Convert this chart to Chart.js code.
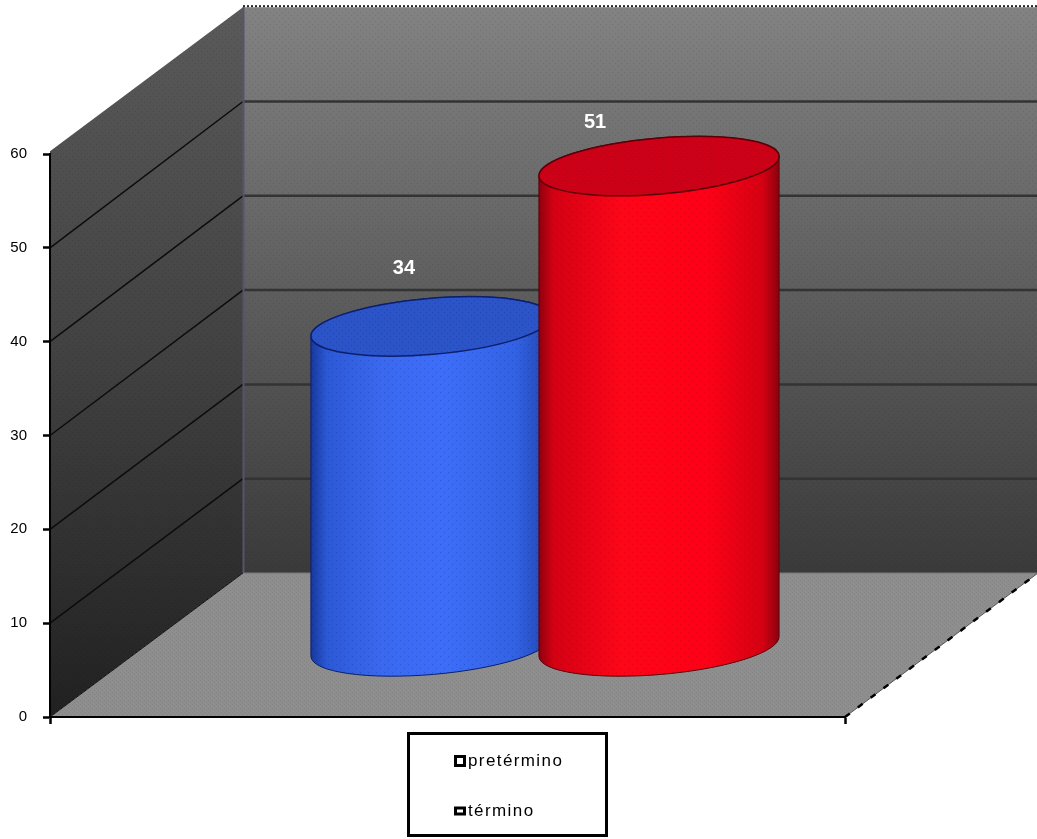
<!DOCTYPE html>
<html>
<head>
<meta charset="utf-8">
<title>pretérmino / término</title>
<script src="https://cdn.jsdelivr.net/npm/chart.js@4/dist/chart.umd.min.js"></script>
<style>
  html, body { margin: 0; padding: 0; background: #fff; }
  canvas { display: block; }
</style>
</head>
<body>
<canvas id="grafico" width="1037" height="839"></canvas>
<script>
// Datos
const categories = [''];
const seriesNames = ['pretérmino', 'término'];
const pretermino = [34];
const termino = [51];
const tickValues = [0, 10, 20, 30, 40, 50, 60];

// Caja 3D: desplazamiento de la pared del fondo respecto al plano frontal
const DEPTH_X = 193;
const DEPTH_Y = 144;
const WALL_STRETCH = 1.005;
const BAR_SHIFT_X = 97.5;
const BAR_SHIFT_Y = 70;
const ELLIPSE_RY = 28;
const ELLIPSE_TILT = -0.085;

const cylinderStyles = [
  {
    side: [[0, '#17389c'], [0.07, '#2b59d6'], [0.3, '#3a69f0'], [0.55, '#3d6efa'], [0.85, '#3262e4'], [1, '#1e44ae']],
    top: '#2a54c8', edge: '#0b1f6e', dot: 'rgba(10,30,120,0.28)'
  },
  {
    side: [[0, '#8c000e'], [0.06, '#d40012'], [0.35, '#ff0518'], [0.7, '#ff0016'], [0.93, '#d60012'], [1, '#8a000e']],
    top: '#cc0016', edge: '#5a0008', dot: 'rgba(120,0,20,0.22)'
  }
];
// Posición de cada rótulo respecto al centro de la tapa
const labelShift = [{ x: -27, y: -58 }, { x: -64, y: -44 }];

function dotPattern(ctx, size, color) {
  const c = document.createElement('canvas');
  c.width = size;
  c.height = size;
  const p = c.getContext('2d');
  p.fillStyle = color;
  p.fillRect(0, 0, 1, 1);
  p.fillRect(size / 2, size / 2, 1, 1);
  return ctx.createPattern(c, 'repeat');
}

function fillPoly(ctx, points, style) {
  ctx.beginPath();
  points.forEach((pt, i) => (i ? ctx.lineTo(pt[0], pt[1]) : ctx.moveTo(pt[0], pt[1])));
  ctx.closePath();
  ctx.fillStyle = style;
  ctx.fill();
}

function drawLine(ctx, x1, y1, x2, y2, color, width, dash) {
  ctx.save();
  ctx.strokeStyle = color;
  ctx.lineWidth = width;
  ctx.setLineDash(dash || []);
  ctx.beginPath();
  ctx.moveTo(x1, y1);
  ctx.lineTo(x2, y2);
  ctx.stroke();
  ctx.restore();
}

// Paredes y suelo, con las líneas de división sacadas de la escala Y
const wallsPlugin = {
  id: 'walls',
  beforeDraw(chart) {
    const ctx = chart.ctx;
    const y = chart.scales.y;
    const area = chart.chartArea;
    const zero = y.getPixelForValue(0);
    const backY = v => zero - DEPTH_Y - (zero - y.getPixelForValue(v)) * WALL_STRETCH;
    const backX = area.left + DEPTH_X;
    const top = backY(60);
    const bottom = backY(0);
    const right = area.right + DEPTH_X;

    const backGrad = ctx.createLinearGradient(0, top, 0, bottom);
    backGrad.addColorStop(0, '#828282');
    backGrad.addColorStop(0.5, '#5e5e5e');
    backGrad.addColorStop(1, '#3a3a3a');
    const backPoly = [[backX, top], [right, top], [right, bottom], [backX, bottom]];
    fillPoly(ctx, backPoly, backGrad);
    fillPoly(ctx, backPoly, dotPattern(ctx, 6, 'rgba(0,0,0,0.10)'));

    const sideGrad = ctx.createLinearGradient(0, top, 0, zero);
    sideGrad.addColorStop(0, '#5a5a5a');
    sideGrad.addColorStop(0.5, '#414141');
    sideGrad.addColorStop(1, '#212121');
    const sidePoly = [[area.left, backY(60) + DEPTH_Y], [backX, top], [backX, bottom], [area.left, zero]];
    fillPoly(ctx, sidePoly, sideGrad);
    fillPoly(ctx, sidePoly, dotPattern(ctx, 6, 'rgba(0,0,0,0.12)'));

    const floorPoly = [[area.left, zero], [area.right, zero], [right, bottom], [backX, bottom]];
    fillPoly(ctx, floorPoly, '#8e8e8e');
    fillPoly(ctx, floorPoly, dotPattern(ctx, 4, 'rgba(0,0,0,0.07)'));

    tickValues.forEach(v => {
      if (v === 0 || v === 60) return;
      const by = backY(v);
      drawLine(ctx, backX, by, right, by, '#333', 2.5);
      drawLine(ctx, area.left, y.getPixelForValue(v), backX, by, '#0c0c0c', 1.5);
    });
    drawLine(ctx, backX + 0.5, top, backX + 0.5, bottom, '#55556a', 2);
    drawLine(ctx, backX, top - 1, right, top - 1, '#222', 2, [2, 2]);
    drawLine(ctx, backX, bottom, right, bottom, '#777', 1);
    drawLine(ctx, area.left, zero, backX, bottom, '#111', 1);
    drawLine(ctx, area.right, zero, right, bottom, '#555', 1);
    drawLine(ctx, area.right, zero, right, bottom, '#000', 2.5, [6, 10]);
  }
};

// Cada barra se dibuja como cilindro a partir de su elemento en el gráfico
const cylinderPlugin = {
  id: 'cylinders',
  beforeDatasetsDraw(chart) {
    const ctx = chart.ctx;
    chart.data.datasets.forEach((ds, i) => {
      const bar = chart.getDatasetMeta(i).data[0];
      const style = cylinderStyles[i];
      const cx = bar.x + BAR_SHIFT_X;
      const rx = bar.width / 2;
      const baseY = bar.base - BAR_SHIFT_Y;
      const topY = baseY - (bar.base - bar.y) * WALL_STRETCH;

      const dxEdge = rx * Math.cos(ELLIPSE_TILT);
      const dyEdge = -rx * Math.sin(ELLIPSE_TILT);

      ctx.save();
      ctx.beginPath();
      ctx.moveTo(cx - dxEdge, topY + dyEdge);
      ctx.lineTo(cx - dxEdge, baseY + dyEdge);
      ctx.ellipse(cx, baseY, rx, ELLIPSE_RY, ELLIPSE_TILT, Math.PI, 0, true);
      ctx.lineTo(cx + dxEdge, topY - dyEdge);
      ctx.ellipse(cx, topY, rx, ELLIPSE_RY, ELLIPSE_TILT, 0, Math.PI, true);
      ctx.closePath();
      const grad = ctx.createLinearGradient(cx - rx, 0, cx + rx, 0);
      style.side.forEach(s => grad.addColorStop(s[0], s[1]));
      ctx.fillStyle = grad;
      ctx.fill();
      ctx.fillStyle = dotPattern(ctx, 8, style.dot);
      ctx.fill();
      ctx.strokeStyle = style.edge;
      ctx.lineWidth = 1;
      ctx.stroke();

      // tapa
      ctx.beginPath();
      ctx.ellipse(cx, topY, rx, ELLIPSE_RY, ELLIPSE_TILT, 0, Math.PI * 2);
      ctx.fillStyle = style.top;
      ctx.fill();
      ctx.fillStyle = dotPattern(ctx, 6, style.dot);
      ctx.fill();
      ctx.lineWidth = 1.5;
      ctx.stroke();
      ctx.restore();

      bar.$labelPos = { x: cx + labelShift[i].x, y: topY + labelShift[i].y };
    });
  },
  afterDatasetsDraw(chart) {
    const ctx = chart.ctx;
    ctx.save();
    ctx.font = 'bold 20px "Liberation Sans", Arial, sans-serif';
    ctx.fillStyle = '#fff';
    ctx.textAlign = 'center';
    ctx.textBaseline = 'middle';
    chart.data.datasets.forEach((ds, i) => {
      const pos = chart.getDatasetMeta(i).data[0].$labelPos;
      ctx.fillText(String(ds.data[0]), pos.x, pos.y);
    });
    ctx.restore();
  }
};

// Leyenda en recuadro bajo el eje
const legendBoxPlugin = {
  id: 'legendBox',
  afterDraw(chart) {
    const ctx = chart.ctx;
    ctx.save();
    ctx.strokeStyle = '#000';
    ctx.lineWidth = 3;
    ctx.strokeRect(408.5, 733.5, 198, 102);
    ctx.font = '17px "Liberation Sans", Arial, sans-serif';
    ctx.letterSpacing = '1.4px';
    ctx.textAlign = 'left';
    ctx.textBaseline = 'middle';
    const rows = [{ y: 761, h: 9 }, { y: 811, h: 6 }];
    chart.data.datasets.forEach((ds, i) => {
      ctx.lineWidth = 3;
      ctx.strokeRect(455.5, rows[i].y - rows[i].h / 2, 9, rows[i].h);
      ctx.fillStyle = '#000';
      ctx.fillText(ds.label, 468, rows[i].y);
    });
    ctx.restore();
  }
};

new Chart(document.getElementById('grafico').getContext('2d'), {
  type: 'bar',
  data: {
    labels: categories,
    datasets: [
      { label: seriesNames[0], data: pretermino, backgroundColor: 'transparent' },
      { label: seriesNames[1], data: termino, backgroundColor: 'transparent' }
    ]
  },
  options: {
    responsive: false,
    animation: false,
    events: [],
    categoryPercentage: 0.5736,
    barPercentage: 1.057,
    layout: { padding: { left: 0, right: 192, top: 154, bottom: 115 } },
    plugins: { legend: { display: false }, tooltip: { enabled: false } },
    scales: {
      x: {
        grid: { drawOnChartArea: false, tickLength: 7, tickColor: '#000', tickWidth: 2.5 },
        border: { color: '#000', width: 2, dash: [2, 2] },
        ticks: { display: false },
        afterFit: s => { s.height = 7; }
      },
      y: {
        min: 0,
        max: 60,
        afterBuildTicks: s => { s.ticks = tickValues.map(v => ({ value: v })); },
        grid: { drawOnChartArea: false, tickLength: 7, tickColor: '#000', tickWidth: 2.5 },
        border: { color: '#000', width: 2, dash: [2, 2] },
        ticks: {
          color: '#000',
          padding: 16,
          font: { family: '"Liberation Sans", Arial, sans-serif', size: 15 }
        },
        afterFit: s => { s.width = 50; }
      }
    }
  },
  plugins: [wallsPlugin, cylinderPlugin, legendBoxPlugin]
});
</script>
</body>
</html>
